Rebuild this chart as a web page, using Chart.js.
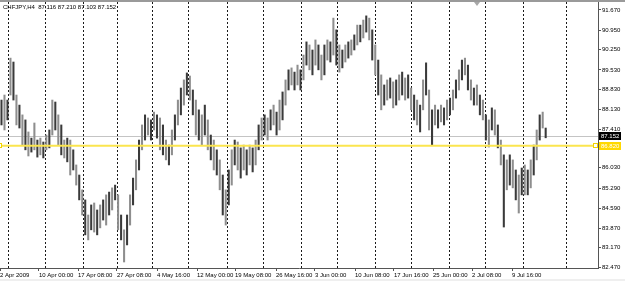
<!DOCTYPE html>
<html><head><meta charset="utf-8">
<script src="https://cdn.jsdelivr.net/npm/chart.js@4"></script>
<style>html,body{margin:0;padding:0;background:#fff}#wrap{width:625px;height:281px;position:relative}canvas{display:block}</style>
</head><body><div id="wrap"><canvas id="c" width="625" height="281"></canvas></div>
<script>
// ---- data ----
const symbolTitle = 'CHFJPY,H4  87.116 87.210 87.103 87.152';
const highs = [
88.45,88.63,88.45,89.95,89.81,88.63,88.27,87.92,87.74,87.31,
87.09,87.63,87.02,87.09,86.95,87.20,87.38,88.45,88.38,87.92,
87.56,87.02,87.09,87.02,86.67,86.13,85.77,85.24,84.88,84.34,
84.70,84.77,84.52,84.70,84.88,85.06,85.16,85.31,85.41,85.06,
84.34,83.81,84.34,85.06,85.66,86.31,87.02,87.56,87.92,87.81,
87.74,88.02,87.92,87.81,87.56,87.02,86.84,87.38,87.92,88.45,
88.88,89.17,89.42,89.31,88.81,88.45,88.10,87.92,88.27,87.74,
87.20,87.02,86.67,86.31,85.77,85.24,85.95,86.67,87.02,86.95,
86.74,86.84,86.67,86.84,86.74,87.02,87.56,87.81,87.92,87.81,
88.10,88.27,88.02,88.45,88.74,89.17,89.53,89.60,89.45,89.70,
89.53,90.06,90.53,90.42,90.24,90.60,90.42,90.06,90.42,90.60,
90.53,91.38,90.96,90.42,90.24,90.42,90.53,90.60,90.78,91.13,
91.13,91.31,91.46,91.38,90.96,90.42,89.88,89.35,88.99,89.17,
89.24,89.10,89.17,89.35,89.45,89.24,89.35,88.88,88.63,88.45,
88.27,89.17,89.78,88.81,88.10,88.27,88.10,88.27,88.17,88.45,
88.52,88.81,89.17,89.53,89.88,89.95,89.70,89.17,88.88,88.99,
88.63,88.45,87.92,87.74,88.17,88.10,87.56,87.02,86.49,86.31,
86.49,86.31,85.95,85.77,86.02,86.13,85.95,86.31,86.84,87.38,
87.92,88.02,87.45];
const lows = [
87.56,87.38,87.74,88.63,88.45,87.56,87.45,86.84,86.67,86.45,
86.59,86.67,86.41,86.49,86.38,86.67,86.74,87.20,87.38,86.84,
86.49,86.38,86.24,85.77,85.95,85.41,84.88,84.34,83.63,83.45,
83.81,83.73,83.63,83.88,84.16,83.98,84.34,84.52,84.88,83.81,
83.45,82.66,83.27,83.98,84.70,85.24,85.95,86.67,87.02,87.20,
87.02,87.38,87.09,86.67,86.49,86.31,86.13,86.49,87.02,87.56,
87.92,88.27,88.63,88.45,87.92,87.20,87.02,86.84,87.20,86.67,
86.31,85.95,85.77,85.24,84.34,83.98,84.70,85.41,86.13,85.95,
85.66,85.95,85.77,86.13,85.88,86.13,86.67,87.02,87.20,87.02,
87.38,87.56,87.20,87.38,87.74,88.27,88.81,88.99,88.81,88.99,
88.81,89.17,89.70,89.53,89.35,89.70,89.53,89.17,89.35,89.88,
89.81,90.06,89.70,89.45,89.60,89.81,89.95,90.06,90.24,90.42,
90.53,90.67,90.88,90.60,89.88,89.35,88.63,88.10,88.27,88.45,
88.52,88.17,88.27,88.45,88.63,88.45,88.52,88.10,87.74,87.56,
87.31,88.10,88.63,87.38,86.84,87.56,87.45,87.67,87.56,87.74,
87.92,88.10,88.52,88.81,89.17,89.35,88.81,88.45,88.27,88.27,
87.92,87.74,87.02,86.77,87.38,87.20,86.74,86.13,83.91,85.24,
85.41,85.31,84.88,84.41,85.06,85.06,85.06,85.31,85.77,86.31,
87.02,87.45,87.10];
const totalSlots = 200; // bar slots incl. right chart shift
const yTicks = [91.670,90.950,90.250,89.530,88.830,88.130,87.410,86.710,86.030,85.290,84.590,83.870,83.170,82.470];
const timeLabels = ['2 Apr 2009','10 Apr 00:00','17 Apr 08:00','27 Apr 08:00','4 May 16:00','12 May 00:00','19 May 08:00','26 May 16:00','3 Jun 00:00','10 Jun 08:00','17 Jun 16:00','25 Jun 00:00','2 Jul 08:00','9 Jul 16:00'];
const timeLabelSlots = [-0.5,12.54,25.59,38.63,52.01,65.39,78.10,91.81,104.85,118.23,131.27,144.32,157.36,170.74];
const weekGridSlots = [2.51,14.88,27.26,38.96,50.67,62.71,75.42,87.79,100.17,112.54,124.92,137.29,149.67,162.04,174.42,189.13];
const bidPrice = 87.152;
const hLinePrice = 86.820;
const yMin = 82.445, yMax = 91.956;

// ---- chart ----
const FONT = {family:'"Liberation Sans", Arial, sans-serif', size:6};
const bars = highs.map((h,i)=>({x:i, y:[lows[i], h]}));

const overlay = {
  id:'overlay',
  beforeDraw(chart){
    const c = chart.ctx; c.save();
    c.fillStyle = '#ffffff'; c.fillRect(0,0,chart.width,chart.height);
    c.fillStyle = '#efefef'; c.fillRect(0,279,chart.width,2);
    c.restore();
  },
  beforeDatasetsDraw(chart){
    const c = chart.ctx, a = chart.chartArea, y = chart.scales.y;
    const py = Math.round(y.getPixelForValue(bidPrice)) + 0.5;
    c.save(); c.strokeStyle = '#c4c4c4'; c.lineWidth = 1;
    c.beginPath(); c.moveTo(a.left, py); c.lineTo(a.right, py); c.stroke(); c.restore();
  },
  afterDraw(chart){
    const c = chart.ctx, a = chart.chartArea, y = chart.scales.y;
    c.save();
    c.fillStyle = '#9a9a9a'; c.fillRect(0,0,chart.width,2);
    const hy = y.getPixelForValue(hLinePrice);
    c.strokeStyle = '#fbe54e'; c.lineWidth = 2;
    c.beginPath(); c.moveTo(a.left, hy); c.lineTo(a.right, hy); c.stroke();
    c.lineWidth = 1; c.strokeStyle = '#f2d400'; c.fillStyle = '#fff';
    c.fillRect(a.right-4, Math.round(hy)-2, 3, 3); c.strokeRect(a.right-4.5, Math.round(hy)-2.5, 4, 4);
    c.fillRect(0, Math.round(hy)-2, 2, 3); c.strokeRect(-1.5, Math.round(hy)-2.5, 3, 4);
    const by = y.getPixelForValue(bidPrice);
    c.font = '6px "Liberation Sans", Arial, sans-serif';
    c.textBaseline = 'middle'; c.textAlign = 'left';
    c.fillStyle = '#000'; c.fillRect(a.right+1, Math.round(by)-4, 22, 8);
    c.fillStyle = '#fff'; c.fillText(bidPrice.toFixed(3), a.right+3, Math.round(by));
    c.fillStyle = '#ffd800'; c.fillRect(a.right+1, Math.round(hy)-4, 22, 8);
    c.fillStyle = '#fff'; c.fillText(hLinePrice.toFixed(3), a.right+3, Math.round(hy));
    c.fillStyle = '#a8a8a8';
    c.beginPath(); c.moveTo(474,2); c.lineTo(480,2); c.lineTo(477,6); c.closePath(); c.fill();
    c.fillStyle = '#000'; c.fillText(symbolTitle, 3, 7);
    c.restore();
  }
};

new Chart(document.getElementById('c'), {
  type:'bar',
  data:{datasets:[{
    data:bars, barThickness:1.4, borderWidth:0, xAxisID:'x', yAxisID:'y',
    backgroundColor: ctx => (ctx.dataIndex % 2 === 0) ? '#3a3a3a' : '#8e8e8e'
  }]},
  options:{
    responsive:false, animation:false, devicePixelRatio:1,
    layout:{padding:{top:2,left:0,right:0,bottom:0}},
    plugins:{legend:{display:false}, tooltip:{enabled:false}, title:{display:false}},
    scales:{
      x:{type:'linear', position:'bottom', min:-0.5, max:totalSlots-0.5, offset:false,
        afterBuildTicks: s => { s.ticks = timeLabelSlots.map(v=>({value:v})); },
        afterFit: s => { s.height = 13; s.paddingLeft = 0; s.paddingRight = 0; },
        grid:{display:true, drawOnChartArea:false, drawTicks:true, tickLength:3, color:'#555', offset:false},
        border:{display:true, color:'#555', width:1},
        ticks:{autoSkip:false, maxRotation:0, minRotation:0, align:'start', padding:1, font:FONT, color:'#000',
          callback:(v,i)=>timeLabels[i]}
      },
      xg:{type:'linear', position:'bottom', min:-0.5, max:totalSlots-0.5, offset:false,
        afterBuildTicks: s => { s.ticks = weekGridSlots.map(v=>({value:v})); },
        afterFit: s => { s.height = 0; s.paddingLeft = 0; s.paddingRight = 0; },
        ticks:{display:false},
        border:{display:false, dash:[2,2]},
        grid:{drawOnChartArea:true, drawTicks:false, color:'#1a1a1a', lineWidth:1, offset:false}
      },
      y:{type:'linear', position:'right', min:yMin, max:yMax,
        afterBuildTicks: s => { s.ticks = yTicks.map(v=>({value:v})); },
        afterFit: s => { s.width = 27; s.paddingTop = 0; s.paddingBottom = 0; },
        grid:{drawOnChartArea:false, drawTicks:true, tickLength:3, color:'#555'},
        border:{display:true, color:'#555', width:1},
        ticks:{padding:1, font:FONT, color:'#000', callback:v=>Number(v).toFixed(3)}
      }
    }
  },
  plugins:[overlay]
});
</script></body></html>
